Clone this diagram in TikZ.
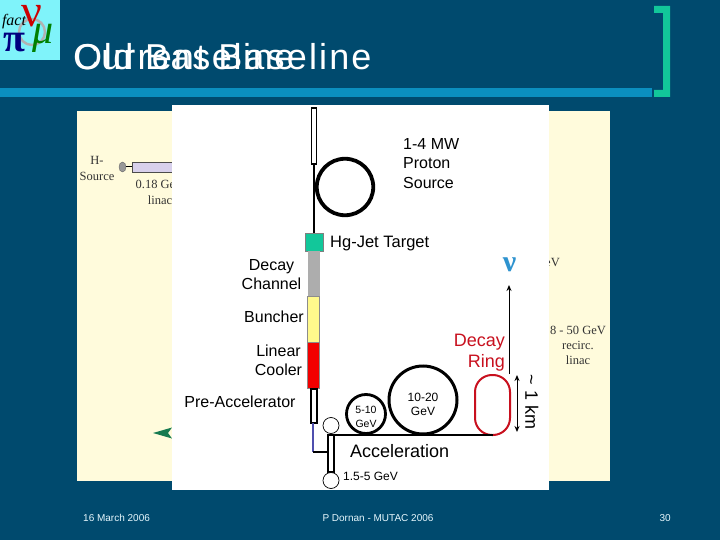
\documentclass[tikz,border=0pt]{standalone}
\usepackage{fontspec}
\setmainfont{Liberation Sans}
\newfontfamily\serifface{Liberation Serif}
\newfontfamily\ttlone[LetterSpace=6]{Liberation Sans}
\newfontfamily\ttltwo[LetterSpace=4.5]{Liberation Sans}
\usetikzlibrary{arrows.meta,shapes.geometric}
\definecolor{slidebg}{HTML}{004A6E}
\definecolor{barblue}{HTML}{0B8FBF}
\definecolor{teal}{HTML}{12C79A}
\definecolor{creamy}{HTML}{FFFBDC}
\definecolor{ringred}{HTML}{C8101E}
\definecolor{nublue}{HTML}{2E93CF}
\definecolor{logocyan}{HTML}{7FF3FA}
\definecolor{lav}{HTML}{D8D0EC}
\definecolor{dkgreen}{HTML}{167A50}
\definecolor{beamblue}{HTML}{4F4FAE}
\tikzset{
  box/.style={rectangle,inner sep=0pt,outer sep=0pt},
  tube/.style={box,draw=black,fill=white,line width=1.3pt,minimum width=5.6pt},
  seg/.style={box,minimum width=12pt},
  ball/.style={circle,draw=black,fill=white,line width=.7pt,inner sep=0pt,outer sep=0pt,minimum size=16pt},
  ring/.style={circle,draw=black,inner sep=0pt,outer sep=0pt},
  lab/.style={inner sep=0pt,font=\fontsize{16}{19}\selectfont,align=center},
  old/.style={inner sep=0pt,font=\serifface\fontsize{12.5}{15}\selectfont,align=center,text=black!80},
  foot/.style={inner sep=0pt,font=\fontsize{10}{12}\selectfont,text=white!90!cyan},
  ttl/.style={inner sep=0pt,anchor=base west,text=white},
  logot/.style={inner sep=0pt,anchor=base}
}
\begin{document}
\begin{tikzpicture}[x=1pt,y=-1pt]
\useasboundingbox (0,0) rectangle (720,540);
\fill[slidebg] (0,0) rectangle (720,540);
% logo
\fill[logocyan] (0,0) rectangle (60,60);
\node[circle,draw=black!30,line width=2.4pt,minimum width=26pt,inner sep=0pt] (logoring) at (32,32) {};
\node[logot,text=black,font=\serifface\itshape\fontsize{16}{16}\selectfont] (logofact) at (14,26) {fact};
\node[logot,text=blue!50!black,font=\serifface\bfseries\fontsize{40}{40}\selectfont] (logopi) at (14,52) {π};
\node[logot,text=red!80!black,font=\serifface\fontsize{46}{46}\selectfont] (logonu) at (32,27) {ν};
\node[logot,text=green!50!black,font=\serifface\itshape\fontsize{42}{42}\selectfont] (logomu) at (43,44) {μ};
% title
\fill[barblue] (0,88) rectangle (652,97);
\node[ttl,font=\ttlone\fontsize{36}{40}\selectfont] (t1) at (73,70) {Current Baseline};
\node[ttl,font=\ttltwo\fontsize{36}{40}\selectfont] (t2) at (74,70) {Old Baseline};
\fill[teal] (654,6) -- (670,6) -- (670,97) -- (654,97) -- (654,90) -- (663,90) -- (663,13) -- (654,13) -- cycle;
% old baseline picture
\fill[creamy] (77,111) rectangle (610,481);
\node[old,anchor=center] (hsrc) at (97,168) {H-\\[1pt]Source};
\node[ellipse,inner sep=0pt,outer sep=0pt,draw=black!60,fill=black!40,minimum width=7pt,minimum height=10pt] (ion) at (122.5,167) {};
\node[box,draw=black!70,fill=lav,line width=.7pt,minimum width=62pt,minimum height=10pt,anchor=west] (lin) at (132,167) {};
\draw[line width=1pt] (ion) -- (lin);
\node[old,anchor=center] (linac) at (160,192) {0.18 GeV\\[1pt]linac};
\node[old,anchor=east] (gev) at (560,262) {GeV};
\node[old,anchor=center] (recirc) at (578,345) {8 - 50 GeV\\[0pt]recirc.\\[0pt]linac};
\fill[dkgreen] (153,433) -- (172,427.5) -- (168,433) -- (172,438.5) -- cycle;
% new baseline picture
\fill[white] (172,105) rectangle (549,490);
\node[tube,minimum height=56pt,anchor=north] (ttop) at (314,108) {};
\node[ring,line width=3.8pt,minimum size=56.5pt] (prot) at (345,187) {};
\node[box,fill=teal,draw=black!50,line width=.4pt,minimum width=18pt,minimum height=18pt] (tgt) at (314,242) {};
\node[seg,fill=black!32,minimum height=45pt,anchor=north] (dch) at (313.5,251) {};
\node[seg,fill=yellow!45,draw=black!45,line width=.4pt,minimum height=46pt,anchor=north] (bun) at (313.5,296) {};
\node[seg,fill=red!95!black,draw=black!45,line width=.4pt,minimum height=46pt,anchor=north] (cool) at (313.5,342) {};
\node[tube,line width=1.8pt,minimum width=6.2pt,minimum height=34pt,anchor=north] (pre) at (314,389) {};
\draw[line width=2pt] (ttop) -- (tgt);
\coordinate (bend) at (313,452);
\node[tube,minimum width=5.6pt,minimum height=37pt,anchor=north,line width=2.4pt] (acc) at (331,435) {};
\draw[draw=beamblue,line width=1.6pt] (pre.south -| bend) -- (bend);
\draw[line width=2pt] (bend) -- (acc.west |- bend);
\node[ball] (b1) at (331,425.5) {};
\node[ball] (b2) at (331,480.5) {};
\node[ring,line width=2.8pt,minimum size=39pt] (r510) at (366,414) {};
\node[ring,line width=3pt,minimum size=68pt] (r1020) at (423,400) {};
\node[box,draw=ringred,line width=2pt,rounded corners=17pt,minimum width=35pt,minimum height=60pt] (dr) at (492.5,405) {};
\draw[line width=2.5pt] (acc.north east) -- (dr.south);
% arrows
\coordinate (nubase) at (509,374);
\coordinate (nutip) at (509,285);
\draw[-{Stealth[length=6pt,width=5pt]},line width=1pt] (nubase) -- (nutip);
\coordinate (kma) at (517,375);
\coordinate (kmb) at (517,432);
\draw[{Stealth[length=6pt,width=5pt]}-{Stealth[length=6pt,width=5pt]},line width=1pt] (kma) -- (kmb);
\node[inner sep=0pt,text=nublue,font=\serifface\bfseries\fontsize{30}{30}\selectfont] (nu) at (509.5,265) {ν};
% labels
\node[lab,anchor=west,align=left] (l1) at (403,163.5) {1-4 MW\\[0.5pt]Proton\\[0.5pt]Source};
\node[lab,anchor=west,font=\fontsize{16.5}{19}\selectfont] (l2) at (330,244) {Hg-Jet Target};
\node[lab,anchor=center] (l3) at (271.5,274.5) {Decay\\[0.5pt]Channel};
\node[lab,anchor=center] (l4) at (274,317) {Buncher};
\node[lab,anchor=center] (l5) at (278.5,360.5) {Linear\\[0.5pt]Cooler};
\node[lab,anchor=center] (l6) at (240,402) {Pre-Accelerator};
\node[lab,anchor=west,font=\fontsize{18}{20}\selectfont] (l7) at (350,451) {Acceleration};
\node[lab,anchor=west,font=\fontsize{12}{14}\selectfont] (l8) at (343,476) {1.5-5 GeV};
\node[lab,font=\fontsize{10.5}{13}\selectfont] (l9) at (366,417) {5-10\\[1.5pt]GeV};
\node[lab,font=\fontsize{12}{14}\selectfont] (l10) at (423,404.5) {10-20\\[0pt]GeV};
\node[lab,anchor=east,align=right,text=ringred,font=\fontsize{18}{21}\selectfont] (l11) at (505,353) {Decay\\[0pt]Ring};
\node[lab,rotate=-90,font=\fontsize{18}{20}\selectfont] (l12) at (532,402) {\textasciitilde\ 1 km};
% footer
\node[foot,anchor=base west] (f1) at (83,521) {16 March 2006};
\node[foot,anchor=base] (f2) at (378,521) {P Dornan - MUTAC 2006};
\node[foot,anchor=base east] (f3) at (671,521) {30};
\end{tikzpicture}
\end{document}
